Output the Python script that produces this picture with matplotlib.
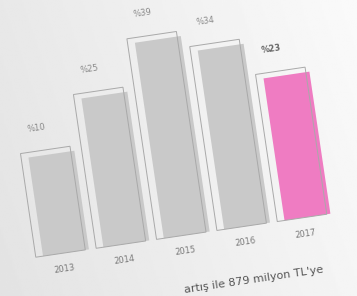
import numpy as np
import matplotlib
matplotlib.use('Agg')
import matplotlib.pyplot as plt
from matplotlib.transforms import Affine2D

# ---------------------------------------------------------------

years = ['2013', '2014', '2015', '2016', '2017']
values = [10, 25, 39, 34, 23]
value_labels = ['%10', '%25', '%39', '%34', '%23']
caption = "artış ile 879 milyon TL'ye"

BASE = -21
ANGLE = 8.4
GRAY = '#c9c9c9'
PINK = '#ef7cc2'
EDGE = '#a9a9a9'

fig = plt.figure(figsize=(3.57, 2.96), dpi=100)

# soft photo-like background
bg = fig.add_axes([0, 0, 1, 1], zorder=0)
gx, gy = np.meshgrid(np.linspace(0, 1, 200), np.linspace(0, 1, 200))
shade = 0.89 + 0.07 * gx + 0.02 * (1 - gy)
bg.imshow(shade, cmap='gray', vmin=0, vmax=1, aspect='auto', extent=[0, 1, 0, 1])
bg.axis('off')

ax = fig.add_axes([0, 0, 1, 1], zorder=1)
ax.patch.set_visible(False)
ax.set_xlim(-0.80, 5.05)
ax.set_ylim(-39, 48.6)
ax.axis('off')

rot = Affine2D().rotate_deg_around(178.5, 148, ANGLE)
tr = ax.transData + rot

x = np.arange(len(years))
heights = [v - BASE for v in values]
colors = [GRAY] * (len(years) - 1) + [PINK]

fills = ax.bar(x + 0.05, [h - 1.5 for h in heights], width=0.76, bottom=BASE,
               color=colors, edgecolor='none')
frames = ax.bar(x - 0.04, heights, width=0.82, bottom=BASE,
                facecolor='none', edgecolor=EDGE, linewidth=0.7)
for p in list(fills) + list(frames):
    p.set_transform(tr)
    p.set_clip_on(False)

for i, v in enumerate(values):
    last = i == len(values) - 1
    ax.text(x[i] - 0.15, v + 5, value_labels[i], transform=tr, rotation=ANGLE,
            ha='center', va='bottom', fontsize=6,
            color='#666666' if last else '#8a8a8a',
            fontweight='bold' if last else 'normal')
    ax.text(x[i], BASE - 3, years[i], transform=tr, rotation=ANGLE,
            ha='center', va='top', fontsize=6, color='#7a7a7a')

ax.text(4.2, BASE - 14.5, caption, transform=tr, rotation=ANGLE,
        ha='right', va='top', fontsize=8, color='#555555')

fig.savefig('out.png', dpi=100)
